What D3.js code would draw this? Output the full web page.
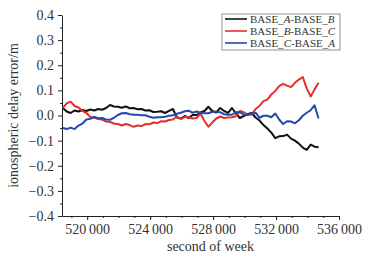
<!DOCTYPE html>
<html>
<head>
<meta charset="utf-8">
<script src="https://cdn.jsdelivr.net/npm/d3@7"></script>
<style>
  body { margin: 0; background: #fff; }
  svg text { font-family: "Liberation Serif", serif; fill: #333; }
</style>
</head>
<body>
<div id="chart"></div>
<script>
// seconds of week, one sample every 250 s
var startSec = 518450;
var stepSec = 250;

// ionospheric delay error (m)
var baseAB = [0.03, 0.016, 0.01, 0.02, 0.016, 0.022, 0.018, 0.024, 0.02, 0.026,
    0.023, 0.03, 0.042, 0.036, 0.035, 0.031, 0.036, 0.029, 0.03, 0.025,
    0.026, 0.02, 0.021, 0.014, 0.015, 0.017, 0.01, 0.018, 0.026, -0.008,
    -0.012, -0.002, -0.01, 0.002, 0.002, 0.012, 0.018, 0.035, 0.018, 0.012,
    0.03, 0.018, 0.01, 0.03, 0.008, -0.01, -0.002, 0.006, 0.01, -0.008,
    -0.02, -0.038, -0.052, -0.068, -0.09, -0.083, -0.082, -0.076, -0.092, -0.1,
    -0.112, -0.128, -0.137, -0.116, -0.124, -0.126];
var baseBC = [0.03, 0.048, 0.055, 0.038, 0.032, 0.018, 0.01, -0.006, -0.008, -0.014,
    -0.016, -0.024, -0.026, -0.032, -0.034, -0.04, -0.034, -0.038, -0.045, -0.04,
    -0.042, -0.034, -0.035, -0.028, -0.03, -0.023, -0.024, -0.018, -0.016, -0.004,
    -0.014, -0.006, -0.006, -0.012, -0.01, 0.008, -0.022, -0.045, -0.028, -0.012,
    -0.004, -0.01, -0.008, -0.007, -0.003, 0.018, 0.013, 0.003, 0.004, 0.026,
    0.038, 0.057, 0.063, 0.084, 0.098, 0.117, 0.126, 0.119, 0.113, 0.13,
    0.143, 0.153, 0.108, 0.076, 0.104, 0.13];
var baseCA = [-0.05, -0.054, -0.048, -0.054, -0.04, -0.032, -0.016, -0.013, -0.006, -0.011,
    -0.01, -0.016, -0.017, -0.009, 0.002, 0.009, 0.01, 0.005, 0.003, 0.003,
    0.001, 0.001, -0.005, -0.009, -0.007, -0.007, -0.005, -0.001, 0.001, 0.007,
    0.011, 0.017, 0.019, 0.011, 0.016, 0.011, 0.009, 0.009, 0.015, 0.015,
    0.013, 0.005, 0.003, 0.003, 0.013, 0.014, 0.003, 0.003, 0.007, 0.011,
    -0.009, -0.001, -0.001, -0.007, 0.008, -0.016, -0.034, -0.023, -0.024, -0.031,
    -0.019, -0.001, 0.011, 0.021, 0.041, -0.012];

var seriesNames = [["A", "B"], ["B", "C"], ["C", "A"]];
var seriesColors = ["#111111", "#e42f2c", "#2448b0"];

var xTicks = [520000, 524000, 528000, 532000, 536000];
var yTicks = [0.4, 0.3, 0.2, 0.1, 0.0, -0.1, -0.2, -0.3, -0.4];

var width = 374, height = 257;
var margin = {top: 15, right: 35, bottom: 41, left: 62};
var innerW = width - margin.left - margin.right;
var innerH = height - margin.top - margin.bottom;

var svg = d3.select("#chart").append("svg")
    .attr("width", width)
    .attr("height", height)
    .append("g")
    .attr("transform", "translate(" + margin.left + "," + margin.top + ")");

var x = d3.scaleLinear().domain([518400, 536000]).range([0, innerW]);
var y = d3.scaleLinear().domain([-0.4, 0.4]).range([innerH, 0]);

// minor ticks first
svg.append("g")
    .attr("transform", "translate(0," + innerH + ")")
    .call(d3.axisBottom(x).tickValues(d3.range(519000, 536001, 1000)).tickSize(2).tickFormat(""))
    .call(function (g) { g.select(".domain").remove(); });
svg.append("g")
    .call(d3.axisLeft(y).tickValues(d3.range(-0.35, 0.4, 0.1)).tickSize(2).tickFormat(""))
    .call(function (g) { g.select(".domain").remove(); });

var fmtX = function (d) { return String(d / 1000) + "\u2009000"; };
var fmtY = function (d) { return d < 0 ? "\u2212" + d3.format(".1f")(-d) : d3.format(".1f")(d); };

var xAxis = svg.append("g")
    .attr("transform", "translate(0," + innerH + ")")
    .call(d3.axisBottom(x).tickValues(xTicks).tickSize(4).tickSizeOuter(0).tickPadding(4).tickFormat(fmtX));
var yAxis = svg.append("g")
    .call(d3.axisLeft(y).tickValues(yTicks).tickSize(4).tickSizeOuter(0).tickPadding(4).tickFormat(fmtY));

svg.selectAll(".tick line, .domain").attr("stroke", "#222");
xAxis.selectAll("text").style("font-size", "14px").style("font-family", "Liberation Serif").attr("fill", "#333");
yAxis.selectAll("text").style("font-size", "14px").style("font-family", "Liberation Serif").attr("fill", "#333");

// lines
var line = d3.line()
    .x(function (d, i) { return x(startSec + i * stepSec); })
    .y(function (d) { return y(d); });

[baseAB, baseBC, baseCA].forEach(function (s, k) {
    svg.append("path")
        .datum(s)
        .attr("fill", "none")
        .attr("stroke", seriesColors[k])
        .attr("stroke-width", 2)
        .attr("stroke-linejoin", "round")
        .attr("d", line);
});

// axis titles
svg.append("text")
    .attr("x", innerW / 2 + 10)
    .attr("y", innerH + 35)
    .attr("text-anchor", "middle")
    .style("font-size", "14px")
    .text("second of week");

svg.append("text")
    .attr("transform", "translate(" + (-44) + "," + (innerH / 2) + ") rotate(-90)")
    .attr("text-anchor", "middle")
    .style("font-size", "14px")
    .text("ionospheric delay error/m");

// legend
var legend = svg.append("g").attr("transform", "translate(" + (222 - margin.left) + "," + (14 - margin.top) + ")");
legend.append("rect")
    .attr("width", 118).attr("height", 36)
    .attr("fill", "#fff").attr("stroke", "#777").attr("stroke-width", 0.8);

seriesNames.forEach(function (n, k) {
    var row = legend.append("g").attr("transform", "translate(0," + (5 + k * 12) + ")");
    row.append("line")
        .attr("x1", 3).attr("x2", 25)
        .attr("y1", 0).attr("y2", 0)
        .attr("stroke", seriesColors[k]).attr("stroke-width", 1.6);
    var t = row.append("text").attr("x", 28).attr("y", 4).style("font-size", "11px");
    t.append("tspan").text("BASE_");
    t.append("tspan").style("font-style", "italic").text(n[0]);
    t.append("tspan").text("-BASE_");
    t.append("tspan").style("font-style", "italic").text(n[1]);
});
</script>
</body>
</html>
